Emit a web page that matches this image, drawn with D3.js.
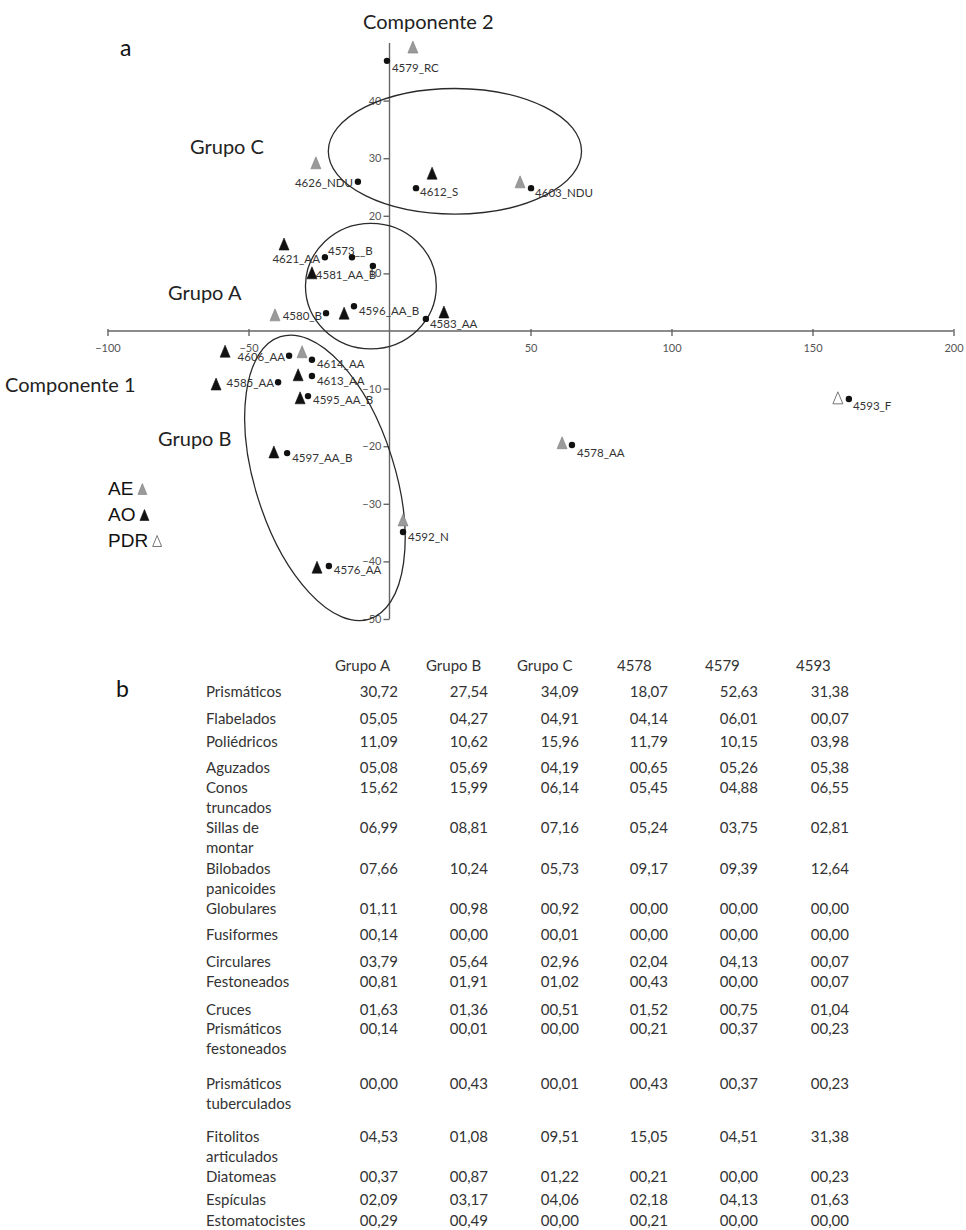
<!DOCTYPE html>
<html>
<head>
  <meta charset="utf-8">
  <title>Componentes principales y tabla de morfotipos</title>
  <style>
    body { margin: 0; background: #fff; }
    svg text { font-family: Lato, "Open Sans", sans-serif; }
    .tick text { font-size: 11px; fill: #555; }
    .tick line, .domain { stroke: #666; stroke-width: 1.4; }
    .pt-label { font-size: 11.5px; fill: #333; }
    .title { font-size: 20px; fill: #222; }
    .legend text { font-family: "Liberation Sans", Arial, sans-serif; font-size: 19px; fill: #111; }
    .tbl { font-size: 15px; fill: #333; }
  </style>
</head>
<body>
  <div id="chart"></div>

  <script src="https://d3js.org/d3.v7.min.js"></script>
  <script>
    // Sample scores (Componente 1, Componente 2)
    const sampleIds = ["4579_RC", "4626_NDU", "4612_S", "4603_NDU", "4621_AA", "4573__B", "4581_AA_B",
      "4580_B", "4596_AA_B", "4583_AA", "4606_AA", "4614_AA", "4613_AA", "4585_AA", "4595_AA_B",
      "4597_AA_B", "4592_N", "4576_AA", "4578_AA", "4593_F"];
    const comp1 = [-0.9, -11.2, 9.4, 50.2, -22.9, -13.3, -5.9, -22.5, -12.6, 12.9, -35.6, -27.5, -27.5,
      -39.5, -28.9, -36.3, 4.8, -21.5, 64.7, 162.9];
    const comp2 = [46.9, 25.9, 24.8, 24.8, 12.8, 12.8, 11.3, 3.1, 4.3, 2.1, -4.3, -5.0, -7.8, -8.9,
      -11.3, -21.2, -34.9, -40.8, -19.8, -11.8];

    // Triangle markers (type and position), one per sample, null where none is drawn
    const markerType = ["AE", "AE", "AO", "AE", "AO", null, "AO", "AE", "AO", "AO", "AO", "AE", "AO",
      "AO", "AO", "AO", "AE", "AO", "AE", "PDR"];
    const markerComp1 = [8.3, -26.1, 15.1, 46.3, -37.4, null, -27.5, -40.6, -16.1, 19.3, -58.3, -31.0,
      -32.4, -61.5, -31.7, -41.0, 4.8, -25.7, 61.2, 159.0];
    const markerComp2 = [49.3, 29.2, 27.4, 25.9, 15.1, null, 10.1, 2.8, 3.1, 3.3, -3.5, -3.6, -7.6,
      -9.2, -11.6, -21.0, -32.8, -41.0, -19.4, -11.6];

    const legendTypes = ["AE", "AO", "PDR"];
    const xTicks = [-100, -50, 50, 100, 150, 200];
    const yTicks = [40, 30, 20, 10, -10, -20, -30, -40, -50];

    // Group outlines: centre and half-axes in data units, tilt in degrees
    const groupNames = ["Grupo C", "Grupo A", "Grupo B"];
    const groupCx = [23.2, -6.6, -22.9];
    const groupCy = [31.2, 7.8, -25.5];
    const groupRx = [44.9, 23.2, 24.8];
    const groupRy = [10.9, 10.9, 25.7];
    const groupTilt = [0, 0, -17.5];

    // Table b
    const tableColumns = ["Grupo A", "Grupo B", "Grupo C", "4578", "4579", "4593"];
    const rowNames = [["Prismáticos"], ["Flabelados"], ["Poliédricos"], ["Aguzados"], ["Conos", "truncados"],
      ["Sillas de", "montar"], ["Bilobados", "panicoides"], ["Globulares"], ["Fusiformes"], ["Circulares"],
      ["Festoneados"], ["Cruces"], ["Prismáticos", "festoneados"], ["Prismáticos", "tuberculados"],
      ["Fitolitos", "articulados"], ["Diatomeas"], ["Espículas"], ["Estomatocistes"]];
    const grupoA = ["30,72", "05,05", "11,09", "05,08", "15,62", "06,99", "07,66", "01,11", "00,14", "03,79",
      "00,81", "01,63", "00,14", "00,00", "04,53", "00,37", "02,09", "00,29"];
    const grupoB = ["27,54", "04,27", "10,62", "05,69", "15,99", "08,81", "10,24", "00,98", "00,00", "05,64",
      "01,91", "01,36", "00,01", "00,43", "01,08", "00,87", "03,17", "00,49"];
    const grupoC = ["34,09", "04,91", "15,96", "04,19", "06,14", "07,16", "05,73", "00,92", "00,01", "02,96",
      "01,02", "00,51", "00,00", "00,01", "09,51", "01,22", "04,06", "00,00"];
    const s4578 = ["18,07", "04,14", "11,79", "00,65", "05,45", "05,24", "09,17", "00,00", "00,00", "02,04",
      "00,43", "01,52", "00,21", "00,43", "15,05", "00,21", "02,18", "00,21"];
    const s4579 = ["52,63", "06,01", "10,15", "05,26", "04,88", "03,75", "09,39", "00,00", "00,00", "04,13",
      "00,00", "00,75", "00,37", "00,37", "04,51", "00,00", "04,13", "00,00"];
    const s4593 = ["31,38", "00,07", "03,98", "05,38", "06,55", "02,81", "12,64", "00,00", "00,00", "00,07",
      "00,07", "01,04", "00,23", "00,23", "31,38", "00,23", "01,63", "00,00"];
    const tableValues = [grupoA, grupoB, grupoC, s4578, s4579, s4593];

    // ---- layout ----
    const width = 966, height = 1230;
    // label placement relative to each dot: [anchor, dx, dy]
    const labelPlace = [["start", 5, 7], ["end", -5, 1], ["start", 4, 4], ["start", 4, 5], ["end", -5, 2],
      ["start", -24, -6], ["start", -57, 9], ["end", -4, 3], ["start", 5, 5], ["start", 4, 5],
      ["end", -4, 1], ["start", 5, 4], ["start", 5, 5], ["end", -4, 1], ["start", 5, 4],
      ["start", 5, 5], ["start", 5, 5], ["start", 5, 4], ["start", 5, 8], ["start", 4, 7]];
    const groupLabelPos = [[190, 147], [168, 293], [158, 439]];
    const rowY = [692, 719, 742, 768, 788, 828, 869, 909, 935, 962, 982, 1010, 1029, 1084, 1137, 1177, 1200, 1221];
    const colHeadX = [335, 426, 517, 617, 705, 796];
    const colValX = [398, 488, 579, 668, 758, 849];

    const markerFill = { AE: "#9a9a9a", AO: "#111", PDR: "#fff" };
    const markerStroke = { AE: "#7d7d7d", AO: "#111", PDR: "#777" };

    const svg = d3.select("#chart")
      .append("svg")
      .attr("width", width)
      .attr("height", height);

    const xScale = d3.scaleLinear().domain([-100, 200]).range([107.5, 953.5]);
    const yScale = d3.scaleLinear().domain([-50, 50]).range([619, 43]);

    function triangle(cx, cy, w, h) {
      return `M${cx - w / 2},${cy + h / 2}L${cx},${cy - h / 2}L${cx + w / 2},${cy + h / 2}Z`;
    }

    // Axes crossing at the origin
    const xAxis = d3.axisBottom(xScale).tickValues(xTicks).tickSizeInner(5).tickSizeOuter(0).tickPadding(8);
    const yAxis = d3.axisLeft(yScale).tickValues(yTicks).tickSizeInner(6).tickSizeOuter(0).tickPadding(2);

    const gx = svg.append("g")
      .attr("transform", `translate(0, ${yScale(0)})`)
      .call(xAxis);
    gx.selectAll(".tick line").attr("y1", -2);
    gx.select(".domain").attr("d", `M${xScale(-100)},0H${xScale(200)}`);
    // end ticks at -100 and 200 are part of tickValues; add one at 0 is hidden by the y axis

    const gy = svg.append("g")
      .attr("transform", `translate(${xScale(0)}, 0)`)
      .call(yAxis);
    gy.select(".domain").attr("d", `M0,${yScale(-50)}V${yScale(50)}`);
    svg.selectAll(".tick text").attr("font-family", "Lato, sans-serif");

    // Group outlines
    groupNames.forEach((name, i) => {
      const cx = xScale(groupCx[i]), cy = yScale(groupCy[i]);
      svg.append("ellipse")
        .attr("cx", cx)
        .attr("cy", cy)
        .attr("rx", xScale(groupRx[i]) - xScale(0))
        .attr("ry", yScale(0) - yScale(groupRy[i]))
        .attr("transform", `rotate(${groupTilt[i]}, ${cx}, ${cy})`)
        .attr("fill", "none")
        .attr("stroke", "#2a2a2a")
        .attr("stroke-width", 1.3);
      svg.append("text")
        .attr("class", "title")
        .attr("x", groupLabelPos[i][0])
        .attr("y", groupLabelPos[i][1])
        .attr("dy", "0.35em")
        .text(name);
    });

    // Triangles
    sampleIds.forEach((id, i) => {
      const t = markerType[i];
      if (!t) return;
      svg.append("path")
        .attr("d", triangle(xScale(markerComp1[i]), yScale(markerComp2[i]), 10, 12))
        .attr("fill", markerFill[t])
        .attr("stroke", markerStroke[t])
        .attr("stroke-width", t === "PDR" ? 1 : 0.6);
    });

    // Dots and labels
    svg.selectAll("circle.pt")
      .data(sampleIds)
      .enter()
      .append("circle")
      .attr("class", "pt")
      .attr("cx", (d, i) => xScale(comp1[i]))
      .attr("cy", (d, i) => yScale(comp2[i]))
      .attr("r", 3.2)
      .attr("fill", "#111");

    svg.selectAll("text.pt-label")
      .data(sampleIds)
      .enter()
      .append("text")
      .attr("class", "pt-label")
      .attr("x", (d, i) => xScale(comp1[i]) + labelPlace[i][1])
      .attr("y", (d, i) => yScale(comp2[i]) + labelPlace[i][2])
      .attr("dy", "0.35em")
      .attr("text-anchor", (d, i) => labelPlace[i][0])
      .text(d => d);

    // Axis titles and panel letters
    svg.append("text").attr("class", "title").attr("x", 363).attr("y", 22).attr("dy", "0.35em").text("Componente 2");
    svg.append("text").attr("class", "title").attr("x", 5).attr("y", 385).attr("dy", "0.35em").text("Componente 1");
    svg.append("text").attr("x", 120).attr("y", 48).attr("dy", "0.35em")
      .attr("font-size", 23).attr("fill", "#111").text("a");
    svg.append("text").attr("x", 116).attr("y", 689).attr("dy", "0.35em")
      .attr("font-size", 23).attr("fill", "#111").text("b");

    // Legend
    const legend = svg.append("g").attr("class", "legend");
    const legendY = [488, 514, 540];
    legendTypes.forEach((t, i) => {
      const txt = legend.append("text")
        .attr("x", 108)
        .attr("y", legendY[i])
        .attr("dy", "0.35em")
        .text(t);
      const w = txt.node().getComputedTextLength();
      legend.append("path")
        .attr("d", triangle(108 + w + 9, legendY[i] + 1, 9, 11))
        .attr("fill", markerFill[t])
        .attr("stroke", markerStroke[t])
        .attr("stroke-width", t === "PDR" ? 1 : 0.6);
    });

    // Table b
    const tbl = svg.append("g");
    tableColumns.forEach((c, j) => {
      tbl.append("text").attr("class", "tbl")
        .attr("x", colHeadX[j]).attr("y", 666).attr("dy", "0.35em").text(c);
    });
    rowNames.forEach((lines, r) => {
      lines.forEach((line, k) => {
        tbl.append("text").attr("class", "tbl")
          .attr("x", 206).attr("y", rowY[r] + k * 20).attr("dy", "0.35em").text(line);
      });
      tableValues.forEach((col, j) => {
        tbl.append("text").attr("class", "tbl")
          .attr("x", colValX[j]).attr("y", rowY[r]).attr("dy", "0.35em")
          .attr("text-anchor", "end").text(col[r]);
      });
    });
  </script>
</body>
</html>
